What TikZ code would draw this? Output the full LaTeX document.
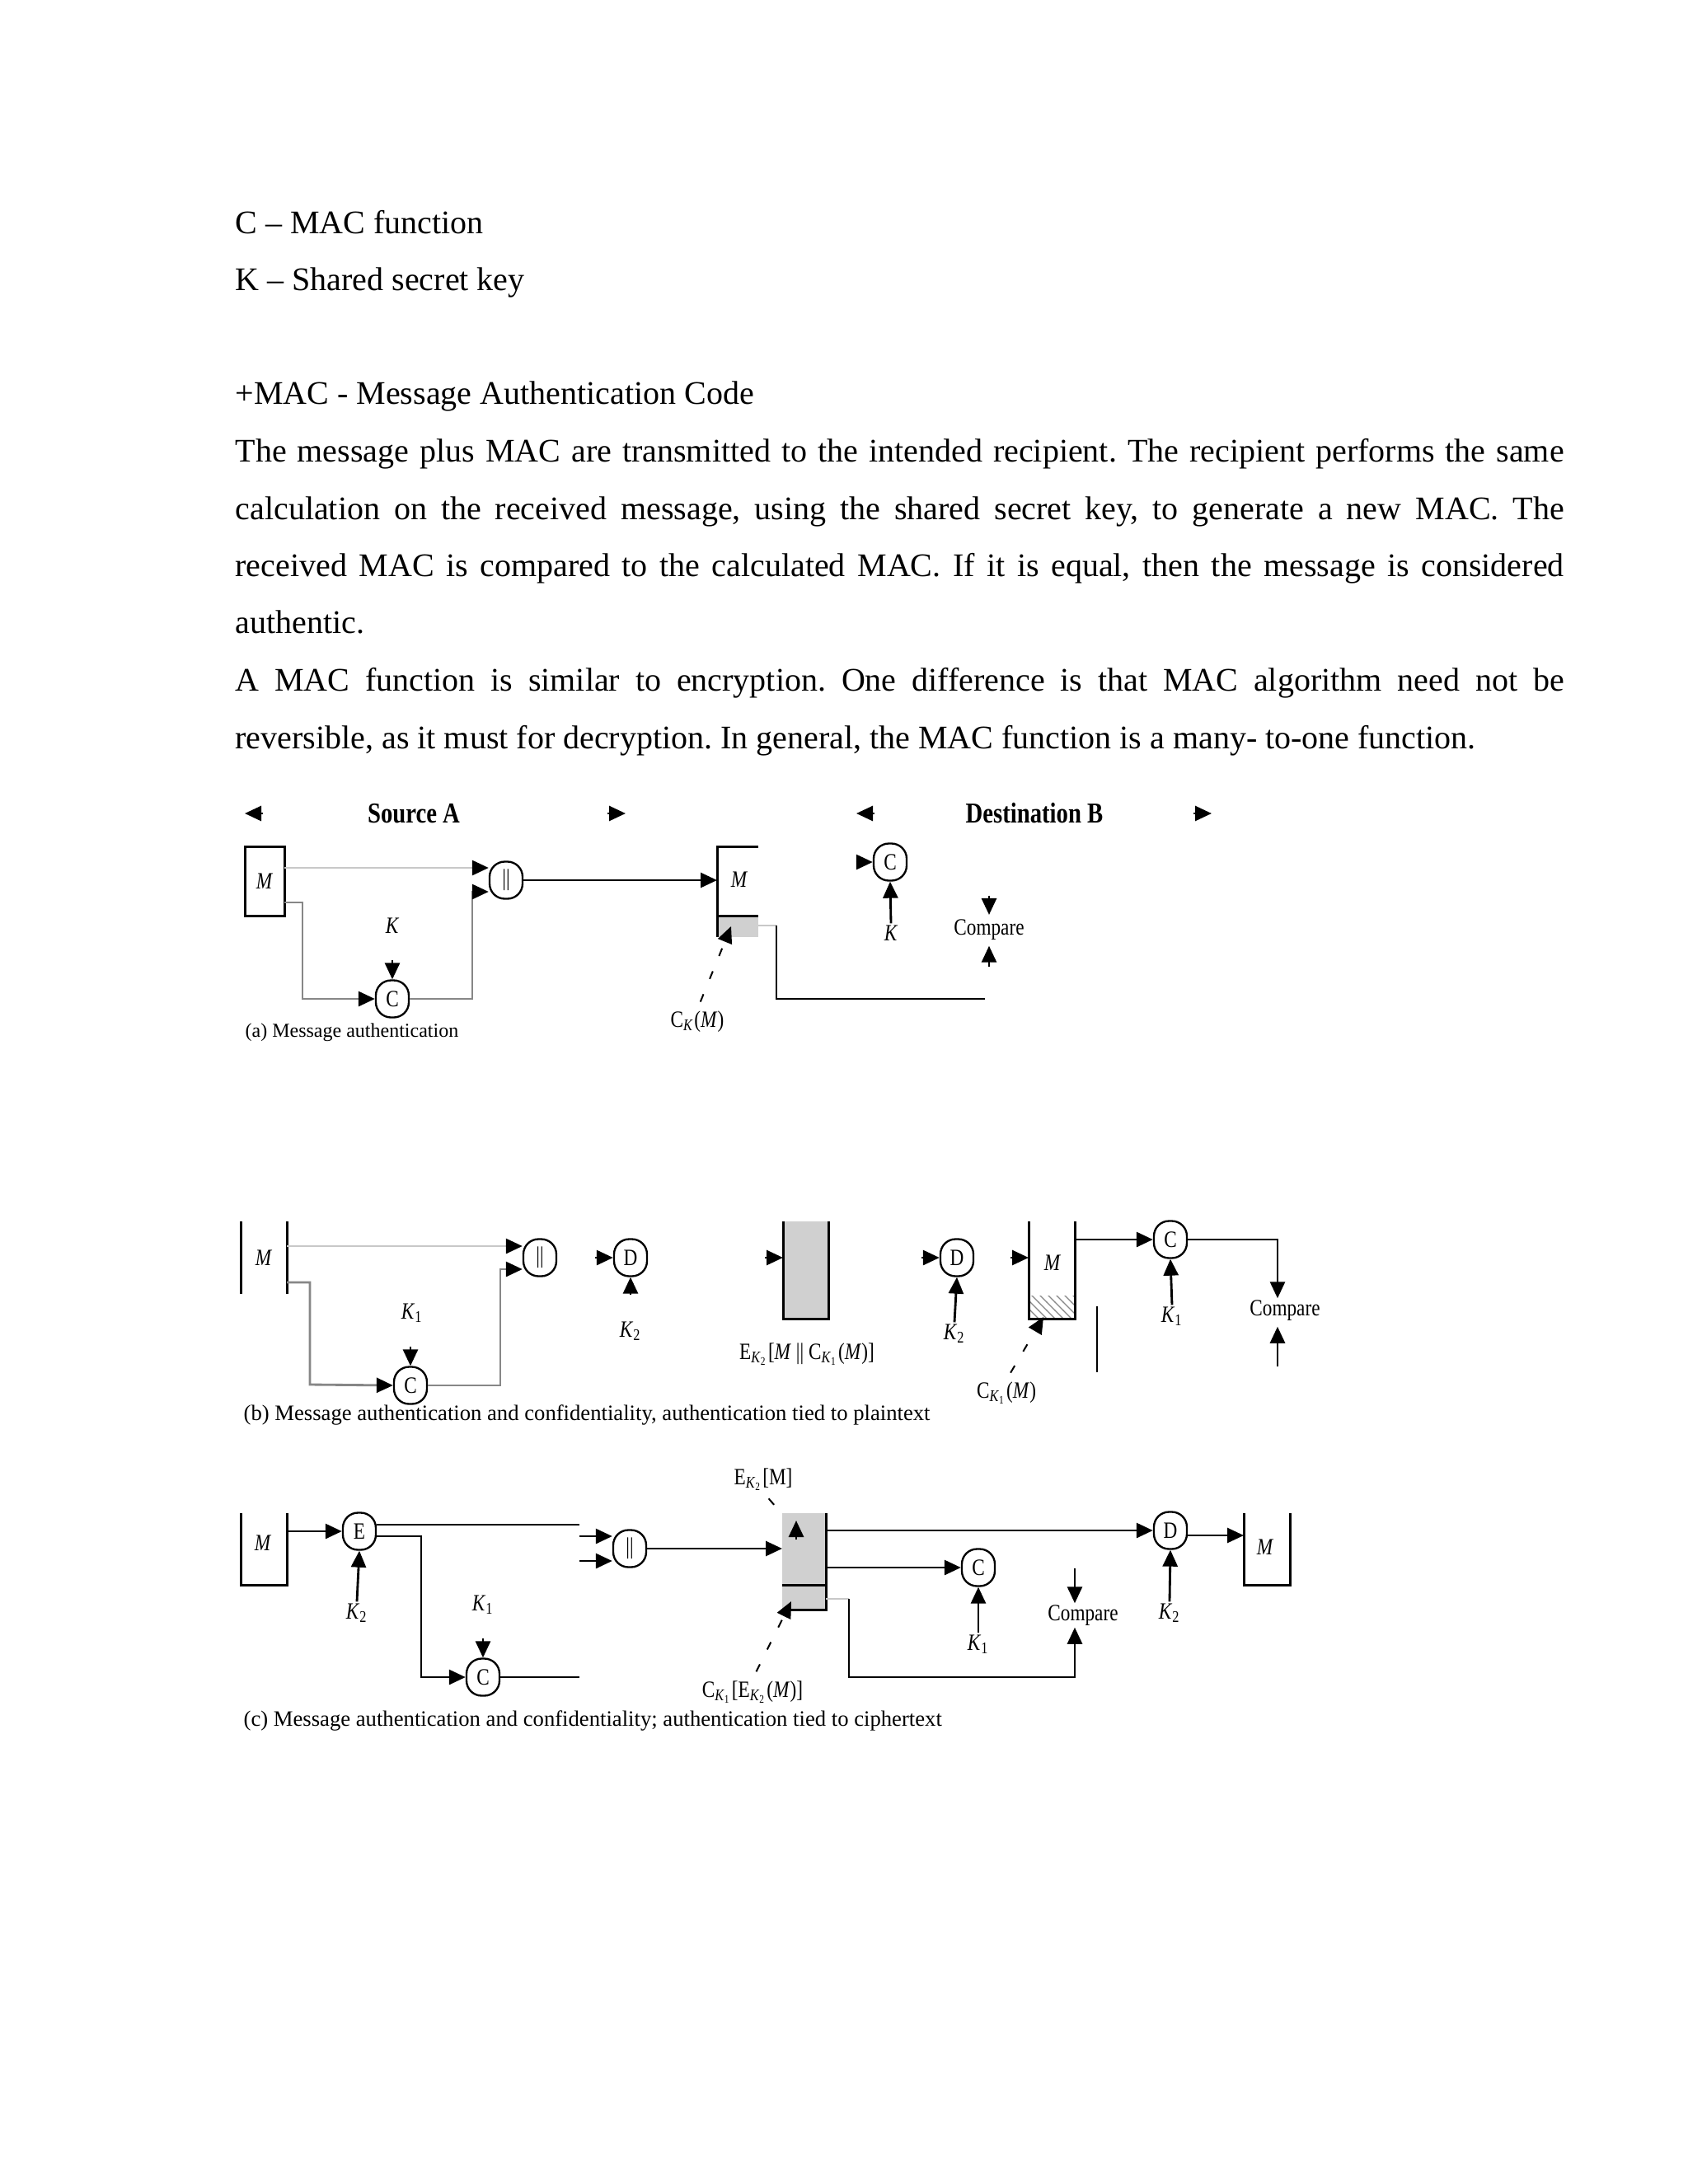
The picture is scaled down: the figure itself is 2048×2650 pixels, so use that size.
\documentclass[tikz,border=0pt]{standalone}
\usepackage{fontspec}
\setmainfont{Liberation Serif}
\newfontfamily\figfont[FakeStretch=0.82]{Liberation Serif}
\usetikzlibrary{positioning, arrows.meta, calc, patterns}
\definecolor{ink}{RGB}{0,0,0}
\definecolor{pale}{RGB}{200,200,200}
\definecolor{greyline}{RGB}{135,135,135}
\definecolor{slab}{RGB}{208,208,208}
\newcommand{\keyidx}[1]{\textit{K}\textsubscript{#1}}
\newcommand{\fullline}[1]{\makebox[483.6pt][s]{#1}}
\frenchspacing

\begin{document}
\begin{tikzpicture}[
  x=0.3pt, y=-0.3pt,
  body/.style={font=\fontsize{12}{14}\selectfont, anchor=base west, inner sep=0pt},
  head/.style={font=\figfont\bfseries\fontsize{10.5}{12}\selectfont, inner sep=0pt},
  lab/.style={font=\figfont\fontsize{8.5}{10}\selectfont, inner sep=0.5pt},
  figcap/.style={font=\fontsize{8}{9}\selectfont, anchor=base west, inner sep=0pt},
  op/.style={draw=ink, line width=0.7pt, rounded corners=5.5pt, minimum width=12pt,
             minimum height=13.5pt, inner sep=0pt, font=\figfont\fontsize{8.5}{9}\selectfont},
  frame/.style={inner sep=0pt, outer sep=0pt, font=\figfont\fontsize{8.5}{10}\selectfont},
  box/.style={draw=ink, line width=0.9pt},
  wire/.style={draw=ink, line width=0.85pt},
  flow/.style={wire, -{Triangle[length=6pt, width=5.4pt, color=ink]}},
  gflow/.style={flow, draw=greyline},
  pflow/.style={flow, draw=pale},
  leadline/.style={draw=ink, line width=0.6pt, dash pattern=on 3pt off 6pt, shorten <=3pt},
  lead/.style={leadline, -{Triangle[length=6pt, width=5.4pt]}}]

  \fill[white] (0,0) rectangle (2048,2650);

  % --- text above the figure
  \node[body] (l1) at (285,283) {C – MAC function};
  \node[body] (l2) at (285,352) {K – Shared secret key};
  \node[body] (l3) at (285,490) {+MAC - Message Authentication Code};
  \node[body] (l4) at (285,560) {\fullline{The message plus MAC are transmitted to the intended recipient. The recipient performs the same}};
  \node[body] (l5) at (285,630) {\fullline{calculation on the received message, using the shared secret key, to generate a new MAC. The}};
  \node[body] (l6) at (285,699) {\fullline{received MAC is compared to the calculated MAC. If it is equal, then the message is considered}};
  \node[body] (l7) at (285,768) {authentic.};
  \node[body] (l8) at (285,838) {\fullline{A MAC function is similar to encryption. One difference is that MAC algorithm need not be}};
  \node[body] (l9) at (285,908) {reversible, as it must for decryption. In general, the MAC function is a many- to-one function.};

  % --- (a) message authentication
  \node[head] (srcA) at (502,987) {Source A};
  \node[head] (dstB) at (1255,987) {Destination B};
  \coordinate (hA1) at (297,987);
  \coordinate (hA2) at (759,987);
  \coordinate (hB1) at (1039,987);
  \coordinate (hB2) at (1470,987);
  \foreach \c/\s in {hA1/6.5pt, hA2/-6.5pt, hB1/6.5pt, hB2/-6.5pt} \draw[flow] ([xshift=\s]\c) -- (\c);

  \node[frame, box, minimum width=14.4pt, minimum height=25.2pt] (srcM) at (321,1069) {\textit{M}};
  \node[op] (catA) at (614,1068) {\textbar\textbar};
  \node[op] (macA) at (476,1212) {C};
  \node[lab] (kA) at (476,1123) {\textit{K}};
  \draw[pflow] (srcM.east |- 0,1053) -- (catA.west |- 0,1053);
  \draw[gflow] (srcM.east |- 0,1095) -| (367,1212) -- (macA.west);
  \draw[gflow] (macA.east) -| (573,1082) -- (catA.west |- 0,1082);
  \draw[flow] ([yshift=7pt]macA.north) -- (macA.north);

  \node[frame, minimum width=15pt, minimum height=33pt] (dstA) at (895,1082) {};
  \fill[slab] (dstA.south west) rectangle ([yshift=7.8pt]dstA.south east);
  \draw[box] (dstA.north east) -- (dstA.north west) -- (dstA.south west);
  \draw[box] ([yshift=7.8pt]dstA.south west) -- ([yshift=7.8pt]dstA.south east);
  \node[lab] (mA) at (897,1067) {\textit{M}};
  \draw[flow] (catA.east) -- (catA.east -| dstA.west);
  \node[lab] (ckA) at (846,1240) {C\textsubscript{\textit{K}}(\textit{M})};
  \coordinate (ptA) at (887,1124);
  \draw[lead] (ckA.north) -- (ptA);
  \coordinate (jA) at (942,1123);
  \coordinate (eA) at (1195,1212);
  \draw[wire, draw=pale] (dstA.east |- jA) -- (jA);
  \draw[wire] (jA) |- (eA);

  \node[op] (macA2) at (1080,1046) {C};
  \node[lab] (kA2) at (1081,1132) {\textit{K}};
  \draw[flow] (kA2.north) -- (macA2.south);
  \draw[flow] ([xshift=-6pt]macA2.west) -- (macA2.west);
  \node[lab] (cmpA) at (1200,1128) {Compare};
  \draw[flow] ([yshift=8pt]cmpA.north) -- ([yshift=1pt]cmpA.north);
  \draw[flow] ([yshift=-9pt]cmpA.south) -- ([yshift=-1.5pt]cmpA.south);
  \node[figcap, font=\fontsize{7.2}{9}\selectfont] (capA) at (297,1258) {(a) Message authentication};

  % --- (b) authentication tied to plaintext
  \node[frame, minimum width=16.8pt, minimum height=26.4pt] (srcMb) at (320,1526) {\textit{M}};
  \draw[box] (srcMb.north west) -- (srcMb.south west);
  \draw[box] (srcMb.north east) -- (srcMb.south east);
  \node[op] (macB) at (498,1681) {C};
  \node[op] (catB) at (655,1526) {\textbar\textbar};
  \node[lab] (kB1) at (500,1593) {\keyidx{1}};
  \draw[pflow] (srcMb.east |- 0,1512) -- (catB.west |- 0,1512);
  \draw[gflow] (srcMb.east |- 0,1556) -| (376,1680) -- (macB.west);
  \draw[gflow] (macB.east) -| (607,1540) -- (catB.west |- 0,1540);
  \draw[flow] ([yshift=7pt]macB.north) -- (macB.north);
  \node[op] (decB) at (765,1526) {D};
  \node[lab] (kB2) at (765,1615) {\keyidx{2}};
  \draw[flow] ([xshift=-6.5pt]decB.west) -- (decB.west);
  \draw[flow] ([yshift=-6.5pt]decB.south) -- (decB.south);
  \node[frame, minimum width=16.5pt, minimum height=35.4pt, fill=slab] (gB) at (977.5,1541) {};
  \draw[box] (gB.north west) -- (gB.south west) -- (gB.south east) -- (gB.north east);
  \draw[flow] ([shift={(-6.5pt,4.5pt)}]gB.west) -- ([yshift=4.5pt]gB.west);
  \node[lab] (ebB) at (979,1643) {E\textsubscript{\keyidx{2}}[\textit{M} \textbar\textbar\ C\textsubscript{\keyidx{1}}(\textit{M})]};

  \node[op] (decB2) at (1161,1526) {D};
  \node[lab] (kB3) at (1158,1618) {\keyidx{2}};
  \draw[flow] (kB3.north) -- (decB2.south);
  \draw[flow] ([xshift=-6.5pt]decB2.west) -- (decB2.west);
  \node[frame, minimum width=16.8pt, minimum height=35.4pt] (dstMb) at (1276,1541) {};
  \fill[pattern=north west lines, pattern color=greyline] (dstMb.south west) rectangle ([yshift=8.4pt]dstMb.south east);
  \draw[box] (dstMb.north west) -- (dstMb.south west) -- (dstMb.south east) -- (dstMb.north east);
  \node[lab] (mB) at (1277,1532) {\textit{M}};
  \draw[flow] ([shift={(-6.5pt,4.5pt)}]dstMb.west) -- ([yshift=4.5pt]dstMb.west);
  \node[lab] (ckB) at (1221,1690) {C\textsubscript{\keyidx{1}}(\textit{M})};
  \coordinate (ptB) at (1266,1598);
  \draw[lead] (ckB.north) -- (ptB);
  \coordinate (vB1) at (1331,1585);
  \coordinate (vB2) at (1331,1665);
  \draw[wire] (vB1) -- (vB2);
  \node[op] (macB2) at (1420,1504) {C};
  \node[lab] (kB4) at (1422,1597) {\keyidx{1}};
  \draw[flow] (dstMb.east |- macB2) -- (macB2.west);
  \draw[flow] (kB4.north) -- (macB2.south);
  \node[lab] (cmpB) at (1559,1590) {Compare};
  \draw[flow] (macB2.east) -| ([xshift=-2.7pt]cmpB.north);
  \draw[flow] ([shift={(-2.7pt,-16pt)}]cmpB.south) -- ([shift={(-2.7pt,-1.5pt)}]cmpB.south);
  \node[figcap] (capB) at (295,1723) {(b) Message authentication and confidentiality, authentication tied to plaintext};

  % --- (c) authentication tied to ciphertext
  \node[frame, minimum width=16.8pt, minimum height=26.1pt] (srcMc) at (320,1879.5) {};
  \draw[box] (srcMc.north west) -- (srcMc.south west) -- (srcMc.south east) -- (srcMc.north east);
  \node[lab] (mC) at (319,1872) {\textit{M}};
  \node[op] (encC) at (436,1858) {E};
  \node[lab] (kC1) at (433,1957) {\keyidx{2}};
  \draw[flow] (srcMc.east |- encC) -- (encC.west);
  \draw[flow] (kC1.north) -- (encC.south);
  \coordinate (tC1) at (703,1850);
  \coordinate (tC2) at (703,2035);
  \node[op] (catC) at (764,1879) {\textbar\textbar};
  \node[op] (macC) at (586,2035) {C};
  \node[lab] (kC2) at (586,1947) {\keyidx{1}};
  \draw[wire] (encC.east |- tC1) -- (tC1);
  \draw[flow] (tC1 |- 0,1864) -- (catC.west |- 0,1864);
  \draw[flow] (encC.east |- 0,1864) -| (511,2035) -- (macC.west);
  \draw[wire] (macC.east) -- (tC2);
  \draw[flow] (tC1 |- 0,1894) -- (catC.west |- 0,1894);
  \draw[flow] ([yshift=7pt]macC.north) -- (macC.north);

  \node[frame, minimum width=15.9pt, minimum height=35.1pt, fill=slab] (gC) at (975.5,1894.5) {};
  \draw[box] (gC.north east) -- (gC.south east) -- (gC.south west);
  \draw[box] (gC.west |- 0,1923) -- (gC.east |- 0,1923);
  \draw[flow] (catC.east) -- (catC.east -| gC.west);
  \node[lab] (ekC) at (926,1795) {E\textsubscript{\keyidx{2}}[M]};
  \coordinate (ptC1) at (948,1836);
  \draw[leadline] (ekC.south) -- (ptC1);
  \coordinate (upC) at (966,1845);
  \draw[flow] ([yshift=-7pt]upC) -- (upC);
  \node[lab] (ckC) at (913,2053) {C\textsubscript{\keyidx{1}}[E\textsubscript{\keyidx{2}}(\textit{M})]};
  \coordinate (ptC2) at (960,1943);
  \draw[lead] (ckC.north) -- (ptC2);

  \node[op] (decC) at (1420,1857) {D};
  \node[lab] (kC3) at (1419,1957) {\keyidx{2}};
  \draw[flow] (gC.east |- decC) -- (decC.west);
  \draw[flow] (kC3.north) -- (decC.south);
  \node[frame, minimum width=16.8pt, minimum height=26.1pt] (dstMc) at (1537,1879.5) {};
  \draw[box] (dstMc.north west) -- (dstMc.south west) -- (dstMc.south east) -- (dstMc.north east);
  \node[lab] (mC2) at (1535,1877) {\textit{M}};
  \draw[flow] (decC.east |- 0,1863) -- (dstMc.west |- 0,1863);
  \node[op] (macC2) at (1187,1902) {C};
  \node[lab] (kC4) at (1187,1995) {\keyidx{1}};
  \draw[flow] (gC.east |- macC2) -- (macC2.west);
  \draw[flow] (kC4.north) -- (macC2.south);
  \node[lab] (cmpC) at (1314,1960) {Compare};
  \coordinate (dnC) at (1304,1903);
  \draw[flow] (dnC) -- (dnC |- cmpC.north);
  \coordinate (jC) at (1030,1940);
  \coordinate (tC3) at (1304,2035);
  \draw[wire, draw=pale] (gC.east |- jC) -- (jC);
  \draw[flow] (jC) |- (tC3) -- (tC3 |- cmpC.south);
  \node[figcap] (capC) at (295,2094) {(c) Message authentication and confidentiality; authentication tied to ciphertext};
\end{tikzpicture}
\end{document}
